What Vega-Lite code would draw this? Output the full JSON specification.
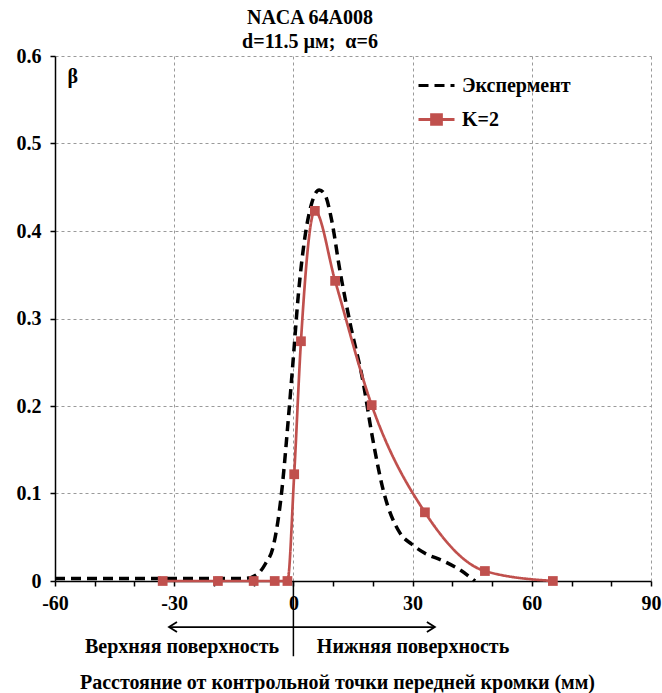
{
  "$schema": "https://vega.github.io/schema/vega-lite/v6.json",
  "width": 596,
  "height": 525,
  "autosize": {"type": "none"},
  "padding": {"left": 55, "top": 56, "right": 11, "bottom": 112},
  "background": "white",
  "title": {
    "text": "NACA 64A008",
    "subtitle": "d=11.5 µм; \u00a0α=6",
    "font": "Liberation Serif",
    "fontSize": 20,
    "fontWeight": "bold",
    "color": "black",
    "subtitleFont": "Liberation Serif",
    "subtitleFontSize": 20,
    "subtitleFontWeight": "bold",
    "subtitleColor": "black",
    "subtitlePadding": 4,
    "anchor": "middle",
    "dx": -43,
    "offset": -6
  },
  "datasets": {
    "exp": [
      {"x": -60, "y": 0.003, "series": "Экспермент"},
      {"x": -40, "y": 0.003, "series": "Экспермент"},
      {"x": -20, "y": 0.003, "series": "Экспермент"},
      {"x": -12, "y": 0.003, "series": "Экспермент"},
      {"x": -9, "y": 0.008, "series": "Экспермент"},
      {"x": -7, "y": 0.02, "series": "Экспермент"},
      {"x": -5.1, "y": 0.039, "series": "Экспермент"},
      {"x": -2.9, "y": 0.104, "series": "Экспермент"},
      {"x": -1.3, "y": 0.184, "series": "Экспермент"},
      {"x": 0, "y": 0.256, "series": "Экспермент"},
      {"x": 1.2, "y": 0.325, "series": "Экспермент"},
      {"x": 2.9, "y": 0.393, "series": "Экспермент"},
      {"x": 4.5, "y": 0.43, "series": "Экспермент"},
      {"x": 6.5, "y": 0.447, "series": "Экспермент"},
      {"x": 8, "y": 0.441, "series": "Экспермент"},
      {"x": 9.6, "y": 0.413, "series": "Экспермент"},
      {"x": 11.7, "y": 0.355, "series": "Экспермент"},
      {"x": 14.25, "y": 0.295, "series": "Экспермент"},
      {"x": 17.6, "y": 0.226, "series": "Экспермент"},
      {"x": 19.7, "y": 0.169, "series": "Экспермент"},
      {"x": 22.6, "y": 0.104, "series": "Экспермент"},
      {"x": 26.8, "y": 0.055, "series": "Экспермент"},
      {"x": 29.8, "y": 0.042, "series": "Экспермент"},
      {"x": 33, "y": 0.032, "series": "Экспермент"},
      {"x": 37.7, "y": 0.023, "series": "Экспермент"},
      {"x": 42, "y": 0.0125, "series": "Экспермент"},
      {"x": 45.7, "y": 0, "series": "Экспермент"}
    ],
    "k2": [
      {"x": -32.9, "y": 0, "series": "K=2"},
      {"x": -19, "y": 0, "series": "K=2"},
      {"x": -10, "y": 0, "series": "K=2"},
      {"x": -4.7, "y": 0, "series": "K=2"},
      {"x": -1.5, "y": 0, "series": "K=2"},
      {"x": 0.2, "y": 0.122, "series": "K=2"},
      {"x": 1.9, "y": 0.274, "series": "K=2"},
      {"x": 5.4, "y": 0.423, "series": "K=2"},
      {"x": 10.5, "y": 0.343, "series": "K=2"},
      {"x": 19.7, "y": 0.201, "series": "K=2"},
      {"x": 33.1, "y": 0.0785, "series": "K=2"},
      {"x": 48.2, "y": 0.0114, "series": "K=2"},
      {"x": 65.3, "y": 0, "series": "K=2"}
    ],
    "arrow": [
      {"g": "shaft", "i": 0, "x": -31.3, "y": -0.0526},
      {"g": "shaft", "i": 1, "x": 35.6, "y": -0.0526},
      {"g": "L", "i": 0, "x": -29.3, "y": -0.0469},
      {"g": "L", "i": 1, "x": -31.3, "y": -0.0526},
      {"g": "L", "i": 2, "x": -29.3, "y": -0.0583},
      {"g": "R", "i": 0, "x": 33.6, "y": -0.0469},
      {"g": "R", "i": 1, "x": 35.6, "y": -0.0526},
      {"g": "R", "i": 2, "x": 33.6, "y": -0.0583}
    ],
    "divider": [
      {"x": 0, "y": 0, "y2": -0.086}
    ],
    "noteLeft": [
      {"x": -3.6, "y": -0.0754, "text": "Верхняя поверхность"}
    ],
    "noteRight": [
      {"x": 5.9, "y": -0.0754, "text": "Нижняя поверхность"}
    ]
  },
  "encoding": {
    "x": {
      "field": "x",
      "type": "quantitative",
      "scale": {"domain": [-60, 90], "nice": false, "zero": false},
      "axis": {
        "title": "Расстояние от контрольной точки передней кромки (мм)",
        "values": [-60, -50, -40, -30, -20, -10, 0, 10, 20, 30, 40, 50, 60, 70, 80, 90],
        "labelExpr": "datum.value % 30 === 0 ? '' + datum.value : ''",
        "grid": true,
        "gridDash": [3, 3],
        "gridColor": "#9a9a9a",
        "gridWidth": 1,
        "gridOpacity": {"condition": {"test": "datum.value % 30 === 0 && datum.value > -60", "value": 1}, "value": 0},
        "domainColor": "black",
        "domainWidth": 1.5,
        "tickColor": "black",
        "tickWidth": 1.5,
        "tickSize": 5,
        "labelPadding": 7,
        "labelFont": "Liberation Serif",
        "labelFontSize": 20,
        "labelFontWeight": "bold",
        "labelColor": "black",
        "labelFlush": false,
        "labelOverlap": false,
        "titleFont": "Liberation Serif",
        "titleFontSize": 20,
        "titleFontWeight": "bold",
        "titleColor": "black",
        "titleX": 282,
        "titleY": 101,
        "titleAlign": "center",
        "titleBaseline": "middle"
      }
    },
    "y": {
      "field": "y",
      "type": "quantitative",
      "scale": {"domain": [0, 0.6], "nice": false, "zero": false},
      "axis": {
        "title": "β",
        "values": [0, 0.1, 0.2, 0.3, 0.4, 0.5, 0.6],
        "labelExpr": "'' + datum.value",
        "grid": true,
        "gridDash": [3, 3],
        "gridColor": "#9a9a9a",
        "gridWidth": 1,
        "gridOpacity": {"condition": {"test": "datum.value > 0", "value": 1}, "value": 0},
        "domainColor": "black",
        "domainWidth": 1.5,
        "tickColor": "black",
        "tickWidth": 1.5,
        "tickSize": 5,
        "labelPadding": 9,
        "labelFont": "Liberation Serif",
        "labelFontSize": 20,
        "labelFontWeight": "bold",
        "labelColor": "black",
        "labelFlush": false,
        "labelOverlap": false,
        "titleFont": "Liberation Serif",
        "titleFontSize": 20,
        "titleFontWeight": "bold",
        "titleColor": "black",
        "titleAngle": 0,
        "titleX": 12,
        "titleY": 20,
        "titleAlign": "left",
        "titleBaseline": "middle"
      }
    }
  },
  "layer": [
    {
      "data": {"name": "exp"},
      "mark": {"type": "line", "strokeWidth": 3.5, "interpolate": "monotone"},
      "encoding": {
        "color": {
          "field": "series", "type": "nominal",
          "scale": {"domain": ["Экспермент", "K=2"], "range": ["#000000", "#C0504D"]},
          "legend": {
            "title": null, "orient": "none", "legendX": 362, "legendY": 10,
            "labelFont": "Liberation Serif", "labelFontSize": 20, "labelFontWeight": "bold", "labelColor": "black",
            "symbolSize": 1296, "symbolStrokeWidth": 3, "labelOffset": 6, "rowPadding": 4, "symbolType": "stroke",
            "encode": {"symbols": {"update": {
              "shape": {"signal": "datum.value === 'K=2' ? 'M-1,0L1,0M-0.27,-0.27L0.27,-0.27L0.27,0.27L-0.27,0.27Z' : 'stroke'"},
              "fill": {"signal": "datum.value === 'K=2' ? '#C0504D' : 'transparent'"}
            }}}
          }
        },
        "strokeDash": {
          "field": "series", "type": "nominal",
          "scale": {"domain": ["Экспермент", "K=2"], "range": [[10, 6], [1, 0]]},
          "legend": {
            "title": null, "orient": "none", "legendX": 362, "legendY": 10,
            "labelFont": "Liberation Serif", "labelFontSize": 20, "labelFontWeight": "bold", "labelColor": "black",
            "symbolSize": 1296, "symbolStrokeWidth": 3, "labelOffset": 6, "rowPadding": 4, "symbolType": "stroke",
            "encode": {"symbols": {"update": {
              "shape": {"signal": "datum.value === 'K=2' ? 'M-1,0L1,0M-0.27,-0.27L0.27,-0.27L0.27,0.27L-0.27,0.27Z' : 'stroke'"},
              "fill": {"signal": "datum.value === 'K=2' ? '#C0504D' : 'transparent'"}
            }}}
          }
        }
      }
    },
    {
      "data": {"name": "k2"},
      "mark": {"type": "line", "strokeWidth": 2.7, "interpolate": "monotone"},
      "encoding": {
        "color": {"field": "series", "type": "nominal", "scale": {"domain": ["Экспермент", "K=2"], "range": ["#000000", "#C0504D"]}},
        "strokeDash": {"field": "series", "type": "nominal", "scale": {"domain": ["Экспермент", "K=2"], "range": [[10, 6], [1, 0]]}}
      }
    },
    {
      "data": {"name": "k2"},
      "mark": {"type": "point", "shape": "square", "size": 95, "filled": true, "color": "#C0504D", "opacity": 1}
    },
    {
      "data": {"name": "divider"},
      "mark": {"type": "rule", "color": "black", "strokeWidth": 1.5},
      "encoding": {"y2": {"field": "y2"}}
    },
    {
      "data": {"name": "arrow"},
      "mark": {"type": "line", "color": "black", "strokeWidth": 1.8},
      "encoding": {
        "detail": {"field": "g", "type": "nominal"},
        "order": {"field": "i", "type": "quantitative"}
      }
    },
    {
      "data": {"name": "noteLeft"},
      "mark": {"type": "text", "font": "Liberation Serif", "fontSize": 20, "fontWeight": "bold", "color": "black", "baseline": "middle", "align": "right"},
      "encoding": {"text": {"field": "text"}}
    },
    {
      "data": {"name": "noteRight"},
      "mark": {"type": "text", "font": "Liberation Serif", "fontSize": 20, "fontWeight": "bold", "color": "black", "baseline": "middle", "align": "left"},
      "encoding": {"text": {"field": "text"}}
    }
  ],
  "config": {
    "view": {"stroke": null},
    "font": "Liberation Serif"
  }
}
